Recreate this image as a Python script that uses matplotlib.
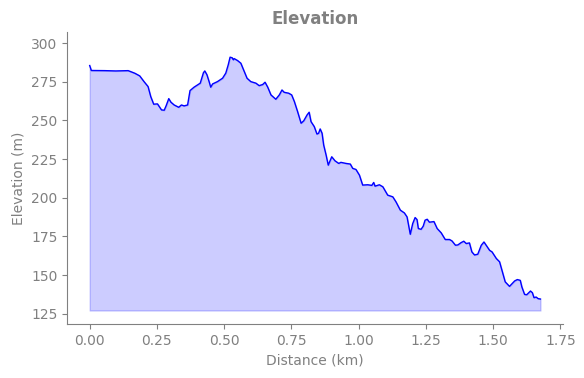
import matplotlib
matplotlib.use("Agg")
import matplotlib.pyplot as plt

# Elevation profile
distance_km = [
    0.000, 0.006, 0.056, 0.097, 0.143, 0.168, 0.186, 0.202, 0.217, 0.227,
    0.238, 0.252, 0.257, 0.267, 0.277, 0.284, 0.294, 0.302, 0.314, 0.331,
    0.341, 0.351, 0.364, 0.373, 0.388, 0.395, 0.411, 0.423, 0.428, 0.436,
    0.444, 0.450, 0.457, 0.475, 0.494, 0.506, 0.515, 0.522, 0.530, 0.534,
    0.537, 0.550, 0.562, 0.572, 0.585, 0.599, 0.618, 0.630, 0.643, 0.652,
    0.662, 0.674, 0.692, 0.705, 0.715, 0.723, 0.740, 0.751, 0.761, 0.773,
    0.786, 0.796, 0.808, 0.816, 0.823, 0.835, 0.845, 0.851, 0.857, 0.864,
    0.870, 0.879, 0.887, 0.900, 0.912, 0.926, 0.934, 0.953, 0.969, 0.978,
    0.990, 1.003, 1.015, 1.034, 1.049, 1.056, 1.061, 1.077, 1.090, 1.108,
    1.127, 1.139, 1.155, 1.170, 1.180, 1.192, 1.201, 1.210, 1.217, 1.222,
    1.232, 1.240, 1.247, 1.255, 1.263, 1.280, 1.292, 1.307, 1.322, 1.338,
    1.347, 1.360, 1.369, 1.381, 1.391, 1.400, 1.412, 1.421, 1.431, 1.443,
    1.456, 1.466, 1.474, 1.487, 1.496, 1.512, 1.524, 1.533, 1.545, 1.561,
    1.580, 1.590, 1.601, 1.607, 1.617, 1.625, 1.639, 1.646, 1.652, 1.660,
    1.667, 1.676,
]
elevation_m = [
    285.5, 282.3, 282.2, 282.0, 282.2, 280.5, 278.8, 275.1, 271.9, 265.4,
    260.5, 260.7, 259.4, 256.8, 256.6, 259.4, 264.1, 261.8, 260.0, 258.5,
    260.0, 259.4, 260.0, 269.3, 271.5, 272.3, 274.1, 280.9, 282.0, 279.5,
    275.1, 271.5, 273.6, 275.1, 277.3, 280.6, 285.9, 290.9, 290.5, 289.2,
    290.0, 288.7, 287.0, 282.7, 277.3, 275.1, 274.1, 272.5, 273.2, 274.7,
    271.5, 266.5, 263.7, 266.5, 269.7, 268.2, 267.6, 266.5, 262.2, 255.7,
    248.2, 249.8, 253.5, 255.3, 249.2, 246.0, 241.2, 241.7, 244.5, 241.7,
    234.1, 227.6, 221.1, 226.5, 223.9, 222.2, 222.9, 222.2, 221.8, 219.0,
    218.3, 214.6, 208.2, 208.4, 208.0, 209.9, 207.5, 208.4, 207.1, 201.7,
    200.6, 197.3, 192.0, 190.2, 187.6, 176.4, 183.3, 187.2, 185.9, 180.1,
    179.6, 181.6, 185.5, 186.1, 184.2, 184.6, 180.1, 177.3, 173.0, 173.0,
    172.1, 169.3, 169.5, 171.0, 171.9, 170.4, 170.8, 165.0, 163.0, 163.5,
    169.3, 171.4, 169.3, 166.0, 165.0, 160.7, 158.6, 153.1, 145.6, 142.7,
    146.2, 147.1, 146.6, 142.3, 137.5, 137.3, 139.7, 138.6, 135.4, 135.8,
    134.8, 134.5,
]
fill_base = 127.1

text_grey = "#808080"

fig, ax = plt.subplots(figsize=(5.84, 3.78), dpi=100)
fig.subplots_adjust(left=0.115, right=0.964, top=0.915, bottom=0.143)

ax.fill_between(distance_km, elevation_m, fill_base, color="blue", alpha=0.2)
ax.plot(distance_km, elevation_m, color="blue", linewidth=1)

ax.set_ylim(118.4, 307.1)
ax.set_yticks([125, 150, 175, 200, 225, 250, 275, 300])
ax.set_xticks([0.0, 0.25, 0.5, 0.75, 1.0, 1.25, 1.5, 1.75])

ax.set_title("Elevation", color=text_grey, fontweight="bold", fontsize=12)
ax.set_xlabel("Distance (km)", color=text_grey)
ax.set_ylabel("Elevation (m)", color=text_grey)

# Grey axes, no top/right frame
ax.spines["top"].set_visible(False)
ax.spines["right"].set_visible(False)
ax.spines["left"].set_color(text_grey)
ax.spines["bottom"].set_color(text_grey)
ax.tick_params(axis="both", colors=text_grey)

fig.savefig("out.png")
